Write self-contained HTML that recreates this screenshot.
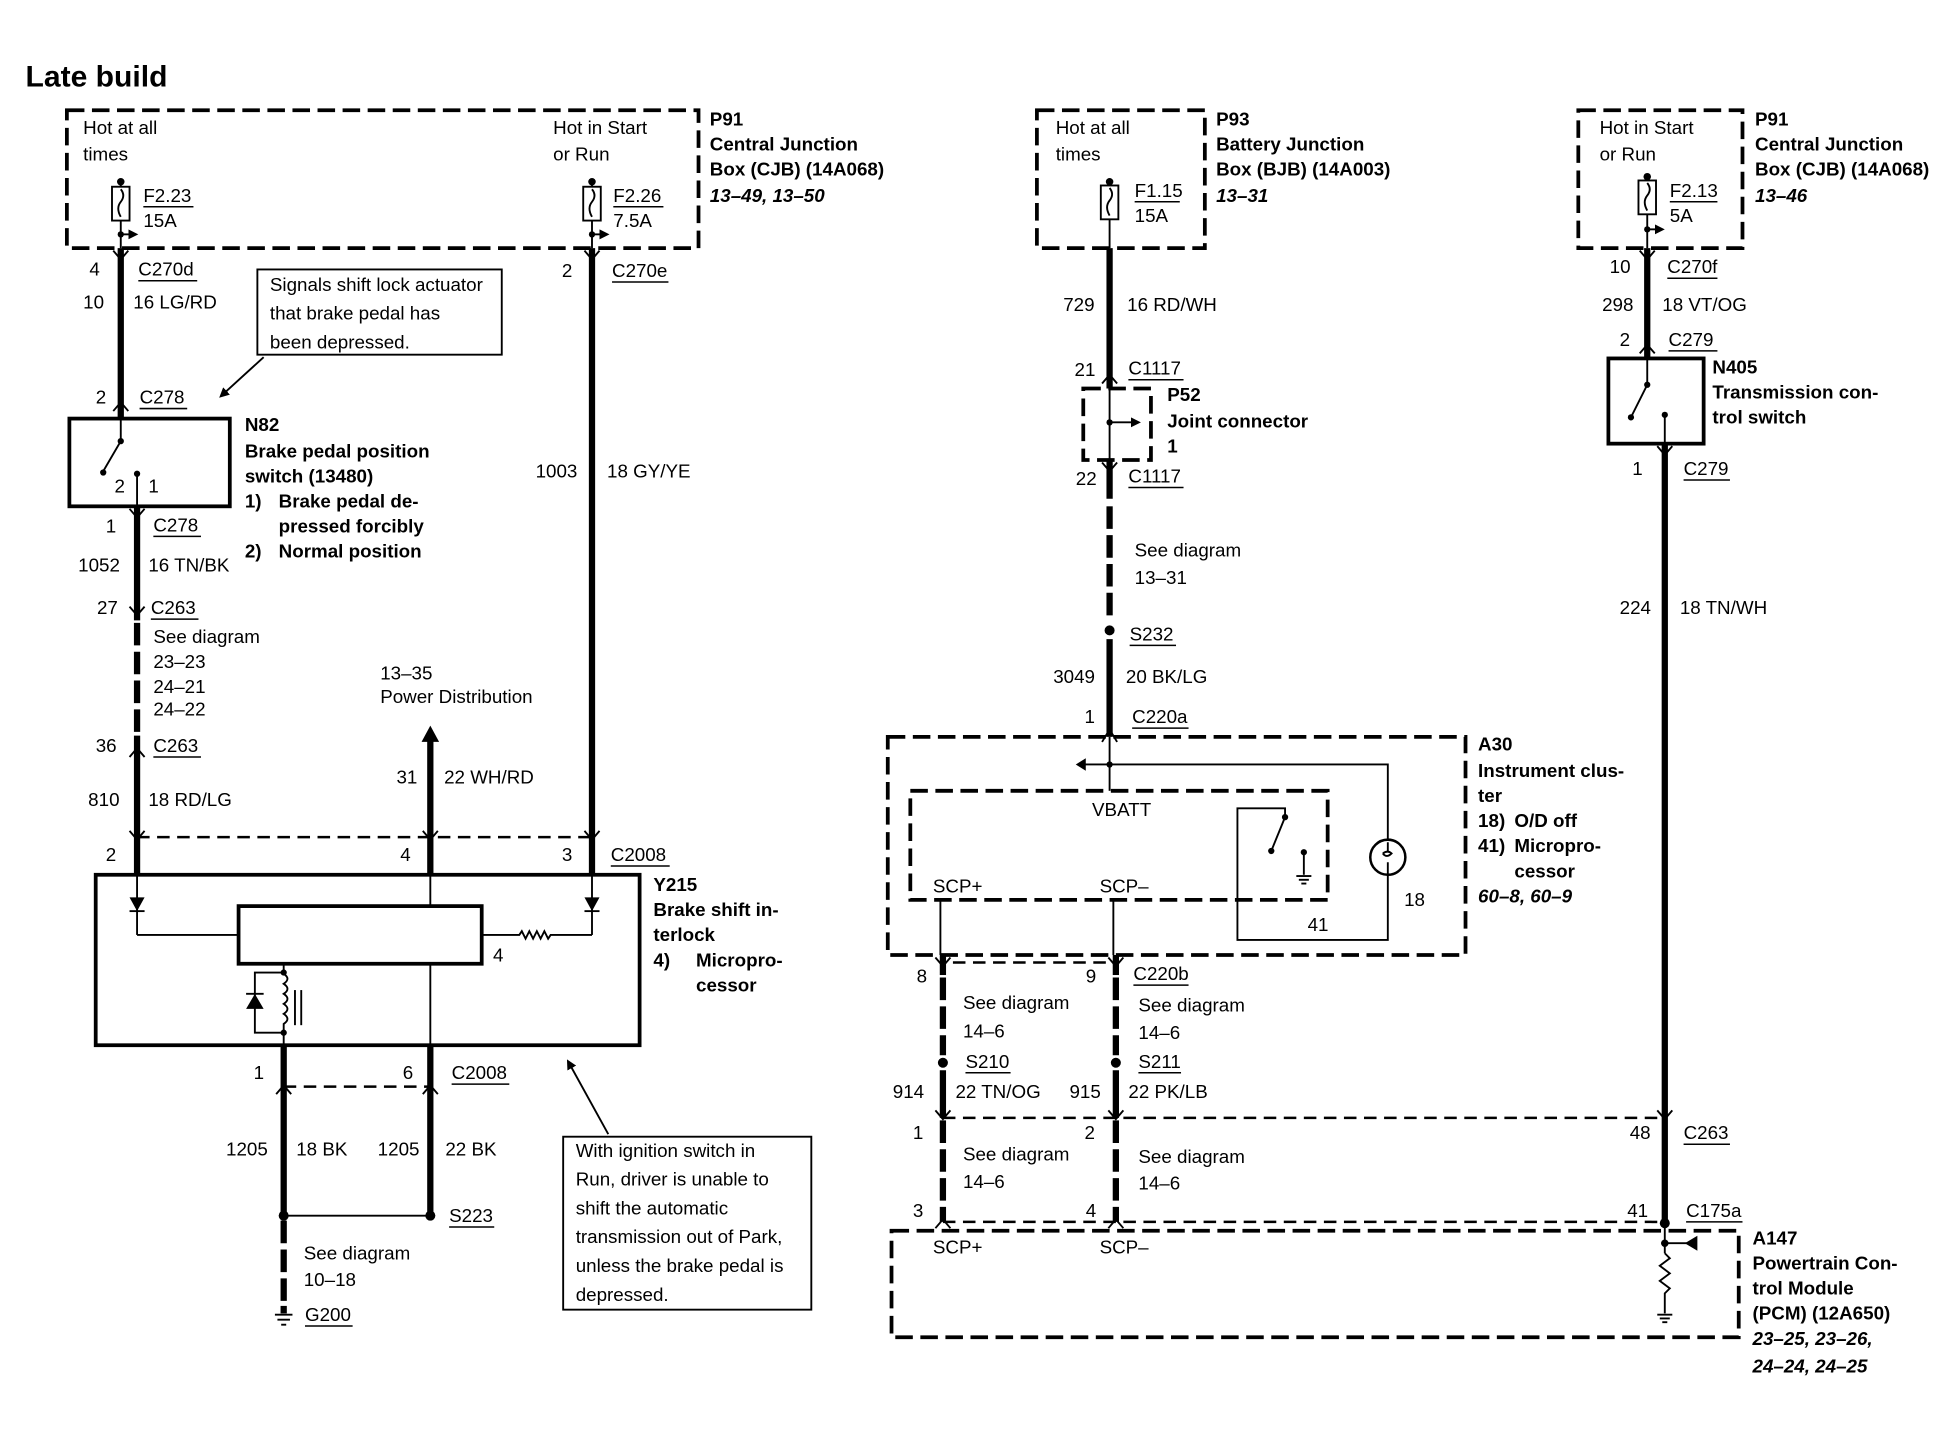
<!DOCTYPE html>
<html><head><meta charset="utf-8"><style>
html,body{margin:0;padding:0;background:#fff;}
svg{display:block}
text{font-family:"Liberation Sans Narrow","Liberation Sans",sans-serif;font-size:15px;fill:#000}
.b{font-weight:bold}
.i{font-style:italic;font-weight:bold}
.t{font-family:"Liberation Sans",sans-serif;font-size:24px;font-weight:bold}
.w{stroke:#000;stroke-width:5;fill:none}
.wd{stroke:#000;stroke-width:5;fill:none;stroke-dasharray:18,5}
.n{stroke:#000;stroke-width:1.5;fill:none}
.bx{stroke:#000;stroke-width:3;fill:none}
.db{stroke:#000;stroke-width:3;fill:none;stroke-dasharray:14,6}
.dn{stroke:#000;stroke-width:2;fill:none;stroke-dasharray:10,6}
.u{stroke:#000;stroke-width:1.2}
</style></head><body>
<svg width="1956" height="1440" viewBox="0 0 1560 1149" xmlns="http://www.w3.org/2000/svg">
<defs>
<marker id="ah" markerWidth="8" markerHeight="8" refX="6" refY="4" orient="auto" markerUnits="userSpaceOnUse"><path d="M0,0 L8,4 L0,8 z" fill="#000"/></marker>
</defs>
<text x="20" y="69" class="t">Late build</text>

<!-- LEFT P91 -->
<rect x="53" y="88" width="504" height="110" class="db"/>
<text x="66" y="107">Hot at all</text><text x="66" y="128">times</text>
<text x="441" y="107">Hot in Start</text><text x="441" y="128">or Run</text>
<text x="566" y="100" class="b">P91</text>
<text x="566" y="120" class="b">Central Junction</text>
<text x="566" y="140" class="b">Box (CJB) (14A068)</text>
<text x="566" y="161" class="i">13–49, 13–50</text>
<!-- fuse F2.23 -->
<circle cx="96" cy="145" r="3"/>
<line x1="96" y1="145" x2="96" y2="198" class="n"/>
<rect x="89" y="149" width="14" height="27" fill="#fff" stroke="#000" stroke-width="1.5"/>
<path d="M96,151 q4,5 0,10 q-4,5 0,12" class="n"/>
<line x1="96" y1="187" x2="108" y2="187" class="n" marker-end="url(#ah)"/>
<circle cx="96" cy="187" r="2.5"/>
<text x="114" y="161">F2.23</text><line x1="114" y1="165" x2="154" y2="165" class="u"/><text x="114" y="181">15A</text>
<!-- fuse F2.26 -->
<circle cx="472" cy="145" r="3"/>
<line x1="472" y1="145" x2="472" y2="198" class="n"/>
<rect x="465" y="149" width="14" height="27" fill="#fff" stroke="#000" stroke-width="1.5"/>
<path d="M472,151 q4,5 0,10 q-4,5 0,12" class="n"/>
<line x1="472" y1="187" x2="484" y2="187" class="n" marker-end="url(#ah)"/>
<circle cx="472" cy="187" r="2.5"/>
<text x="489" y="161">F2.26</text><line x1="489" y1="165" x2="529" y2="165" class="u"/><text x="489" y="181">7.5A</text>

<!-- left wire -->
<line x1="96" y1="198" x2="96" y2="333" class="w"/>
<path d="M90,200 L96,207 L102,200" class="n" stroke-width="2"/>
<path d="M90,328 L96,321 L102,328" class="n" stroke-width="2"/>
<text x="71" y="220">4</text><text x="110" y="220">C270d</text><line x1="110" y1="224" x2="157" y2="224" class="u"/>
<text x="66" y="246">10</text><text x="106" y="246">16 LG/RD</text>
<rect x="205" y="215" width="195" height="68" fill="#fff" stroke="#000" stroke-width="1.5"/>
<text x="215" y="232">Signals shift lock actuator</text>
<text x="215" y="255">that brake pedal has</text>
<text x="215" y="278">been depressed.</text>
<line x1="210" y1="285" x2="176" y2="316" class="n" stroke-width="2" marker-end="url(#ah)"/>
<text x="76" y="322">2</text><text x="111" y="322">C278</text><line x1="111" y1="326" x2="149" y2="326" class="u"/>
<!-- N82 -->
<rect x="55" y="334" width="128" height="70" class="bx"/>
<path d="M96,334 L96,352 L82,376" class="n" stroke-width="2"/>
<circle cx="96" cy="352" r="2.5"/><circle cx="82" cy="377" r="2.5"/>
<line x1="109" y1="378" x2="109" y2="404" class="n" stroke-width="2"/><circle cx="109" cy="378" r="2.5"/>
<text x="91" y="393">2</text><text x="118" y="393">1</text>
<text x="195" y="344" class="b">N82</text>
<text x="195" y="365" class="b">Brake pedal position</text>
<text x="195" y="385" class="b">switch (13480)</text>
<text x="195" y="405" class="b">1)</text><text x="222" y="405" class="b">Brake pedal de-</text>
<text x="222" y="425" class="b">pressed forcibly</text>
<text x="195" y="445" class="b">2)</text><text x="222" y="445" class="b">Normal position</text>
<!-- wire under N82 -->
<line x1="109" y1="404" x2="109" y2="495" class="w"/>
<path d="M103,406 L109,413 L115,406" class="n" stroke-width="2"/>
<path d="M103,484 L109,491 L115,484" class="n" stroke-width="2"/>
<text x="84" y="425">1</text><text x="122" y="424">C278</text><line x1="122" y1="428" x2="160" y2="428" class="u"/>
<text x="62" y="456">1052</text><text x="118" y="456">16 TN/BK</text>
<text x="77" y="490">27</text><text x="120" y="490">C263</text><line x1="120" y1="494" x2="158" y2="494" class="u"/>
<line x1="109" y1="497" x2="109" y2="585" class="wd"/>
<text x="122" y="513">See diagram</text><text x="122" y="533">23–23</text><text x="122" y="553">24–21</text><text x="122" y="571">24–22</text>
<line x1="109" y1="587" x2="109" y2="698" class="w"/>
<path d="M103,604 L109,597 L115,604" class="n" stroke-width="2"/>
<text x="76" y="600">36</text><text x="122" y="600">C263</text><line x1="122" y1="604" x2="160" y2="604" class="u"/>
<text x="70" y="643">810</text><text x="118" y="643">18 RD/LG</text>
<!-- C2008 top -->
<line x1="109" y1="668" x2="472" y2="668" class="dn"/>
<path d="M103,663 L109,670 L115,663" class="n" stroke-width="2"/>
<path d="M337,663 L343,670 L349,663" class="n" stroke-width="2"/>
<path d="M466,663 L472,670 L478,663" class="n" stroke-width="2"/>
<text x="84" y="687">2</text><text x="319" y="687">4</text><text x="448" y="687">3</text>
<text x="487" y="687">C2008</text><line x1="487" y1="691" x2="534" y2="691" class="u"/>
<!-- power dist -->
<line x1="343" y1="588" x2="343" y2="698" class="w"/>
<path d="M336,592 L343,579 L350,592 z" fill="#000"/>
<text x="303" y="542">13–35</text><text x="303" y="561">Power Distribution</text>
<text x="316" y="625">31</text><text x="354" y="625">22 WH/RD</text>
<!-- right wire -->
<line x1="472" y1="198" x2="472" y2="698" class="w"/>
<path d="M466,200 L472,207 L478,200" class="n" stroke-width="2"/>
<text x="448" y="221">2</text><text x="488" y="221">C270e</text><line x1="488" y1="225" x2="533" y2="225" class="u"/>
<text x="427" y="381">1003</text><text x="484" y="381">18 GY/YE</text>

<!-- Y215 -->
<rect x="76" y="698" width="434" height="136" class="bx"/>
<rect x="190" y="723" width="194" height="46" class="bx"/>
<line x1="109" y1="698" x2="109" y2="746" class="n" stroke-width="2"/>
<path d="M103,716 L115,716 L109,727 z" fill="#000"/><line x1="103" y1="727" x2="115" y2="727" class="n" stroke-width="2"/>
<path d="M109,746 L190,746" class="n" stroke-width="2"/>
<line x1="472" y1="698" x2="472" y2="746" class="n" stroke-width="2"/>
<path d="M466,716 L478,716 L472,727 z" fill="#000"/><line x1="466" y1="727" x2="478" y2="727" class="n" stroke-width="2"/>
<path d="M384,746 L414,746 l2,-3 l3,6 l3,-6 l3,6 l3,-6 l3,6 l3,-6 l3,6 l2,-3 L472,746" class="n" stroke-width="2"/>
<text x="393" y="767">4</text>
<line x1="343" y1="698" x2="343" y2="723" class="n" stroke-width="2"/>
<line x1="343" y1="769" x2="343" y2="834" class="n" stroke-width="2"/>
<line x1="226" y1="769" x2="226" y2="777" class="n" stroke-width="2"/>
<path d="M226,777 q6,4 0,8 q6,4 0,8 q6,4 0,8 q6,4 0,8 q6,4 0,8 L226,834" class="n" stroke-width="2"/>
<circle cx="226" cy="776" r="2.5"/><circle cx="226" cy="824" r="2.5"/>
<path d="M226,776 L203,776 L203,824 L226,824" class="n" stroke-width="2"/>
<path d="M196,805 L210,805 L203,793 z" fill="#000"/><line x1="196" y1="793" x2="210" y2="793" class="n" stroke-width="2"/>
<line x1="235" y1="790" x2="235" y2="818" class="n" stroke-width="2"/><line x1="240" y1="790" x2="240" y2="818" class="n" stroke-width="2"/>
<text x="521" y="711" class="b">Y215</text>
<text x="521" y="731" class="b">Brake shift in-</text>
<text x="521" y="751" class="b">terlock</text>
<text x="521" y="771" class="b">4)</text><text x="555" y="771" class="b">Micropro-</text>
<text x="555" y="791" class="b">cessor</text>
<!-- bottom wires -->
<line x1="226" y1="834" x2="226" y2="970" class="w"/>
<line x1="343" y1="834" x2="343" y2="970" class="w"/>
<path d="M220,873 L226,866 L232,873" class="n" stroke-width="2"/>
<path d="M337,873 L343,866 L349,873" class="n" stroke-width="2"/>
<line x1="226" y1="867" x2="343" y2="867" class="dn"/>
<text x="202" y="861">1</text><text x="321" y="861">6</text>
<text x="360" y="861">C2008</text><line x1="360" y1="865" x2="406" y2="865" class="u"/>
<text x="180" y="922">1205</text><text x="236" y="922">18 BK</text>
<text x="301" y="922">1205</text><text x="355" y="922">22 BK</text>
<line x1="226" y1="970" x2="343" y2="970" class="n" stroke-width="2"/>
<circle cx="226" cy="970" r="4"/><circle cx="343" cy="970" r="4"/>
<text x="358" y="975">S223</text><line x1="358" y1="979" x2="394" y2="979" class="u"/>
<line x1="226" y1="974" x2="226" y2="1042" class="wd"/>
<text x="242" y="1005">See diagram</text><text x="242" y="1026">10–18</text>
<line x1="226" y1="1042" x2="226" y2="1048" class="w"/>
<line x1="219" y1="1049" x2="233" y2="1049" class="n" stroke-width="2"/><line x1="221" y1="1053" x2="231" y2="1053" class="n" stroke-width="2"/><line x1="224" y1="1057" x2="228" y2="1057" class="n" stroke-width="2"/>
<text x="243" y="1054">G200</text><line x1="243" y1="1058" x2="281" y2="1058" class="u"/>
<rect x="449" y="907" width="198" height="138" fill="#fff" stroke="#000" stroke-width="1.5"/>
<text x="459" y="923">With ignition switch in</text>
<text x="459" y="946">Run, driver is unable to</text>
<text x="459" y="969">shift the automatic</text>
<text x="459" y="992">transmission out of Park,</text>
<text x="459" y="1015">unless the brake pedal is</text>
<text x="459" y="1038">depressed.</text>
<line x1="485" y1="905" x2="453" y2="847" class="n" stroke-width="2" marker-end="url(#ah)"/>

<!-- P93 -->
<rect x="827" y="88" width="134" height="110" class="db"/>
<text x="842" y="107">Hot at all</text><text x="842" y="128">times</text>
<circle cx="885" cy="145" r="3"/>
<line x1="885" y1="145" x2="885" y2="198" class="n"/>
<rect x="878" y="148" width="14" height="27" fill="#fff" stroke="#000" stroke-width="1.5"/>
<path d="M885,150 q4,5 0,10 q-4,5 0,12" class="n"/>
<text x="905" y="157">F1.15</text><line x1="905" y1="161" x2="941" y2="161" class="u"/><text x="905" y="177">15A</text>
<text x="970" y="100" class="b">P93</text>
<text x="970" y="120" class="b">Battery Junction</text>
<text x="970" y="140" class="b">Box (BJB) (14A003)</text>
<text x="970" y="161" class="i">13–31</text>
<line x1="885" y1="198" x2="885" y2="310" class="w"/>
<path d="M879,306 L885,299 L891,306" class="n" stroke-width="2"/>
<text x="848" y="248">729</text><text x="899" y="248">16 RD/WH</text>
<text x="857" y="300">21</text><text x="900" y="299">C1117</text><line x1="900" y1="303" x2="944" y2="303" class="u"/>
<rect x="864" y="310" width="54" height="57" class="db"/>
<line x1="885" y1="310" x2="885" y2="367" class="n" stroke-width="2"/>
<circle cx="885" cy="337" r="2.5"/>
<line x1="885" y1="337" x2="908" y2="337" class="n" stroke-width="2" marker-end="url(#ah)"/>
<text x="931" y="320" class="b">P52</text><text x="931" y="341" class="b">Joint connector</text><text x="931" y="361" class="b">1</text>
<line x1="885" y1="367" x2="885" y2="398" class="w"/>
<path d="M879,369 L885,376 L891,369" class="n" stroke-width="2"/>
<text x="858" y="387">22</text><text x="900" y="385">C1117</text><line x1="900" y1="389" x2="944" y2="389" class="u"/>
<line x1="885" y1="404" x2="885" y2="494" class="wd"/>
<text x="905" y="444">See diagram</text><text x="905" y="466">13–31</text>
<circle cx="885" cy="503" r="4"/>
<text x="901" y="511">S232</text><line x1="901" y1="515" x2="938" y2="515" class="u"/>
<line x1="885" y1="510" x2="885" y2="588" class="w"/>
<text x="840" y="545">3049</text><text x="898" y="545">20 BK/LG</text>
<text x="865" y="577">1</text><text x="903" y="577">C220a</text><line x1="903" y1="581" x2="948" y2="581" class="u"/>

<!-- A30 -->
<rect x="708" y="588" width="461" height="174" class="db"/>
<rect x="726" y="631" width="333" height="87" class="db"/>
<path d="M879,592 L885,582 L891,592" class="n" stroke-width="2"/>
<line x1="885" y1="588" x2="885" y2="631" class="n" stroke-width="2"/>
<circle cx="885" cy="610" r="2.5"/>
<path d="M865,610 L1107,610 L1107,670" class="n" stroke-width="2"/>
<path d="M858,610 L866,605 L866,615 z" fill="#000"/>
<circle cx="1107" cy="684" r="14" stroke="#000" stroke-width="2" fill="#fff"/>
<path d="M1107,672 L1107,679 M1103,681 q4,-3 7,0 q-4,4 -7,0 M1107,688 L1107,698" class="n" stroke-width="2"/>
<path d="M1107,698 L1107,750 L987,750 L987,645 L1025,645 L1025,652" class="n" stroke-width="2"/>
<path d="M1025,652 L1014,679" class="n" stroke-width="2"/>
<circle cx="1025" cy="652" r="2.5"/><circle cx="1014" cy="679" r="2.5"/>
<line x1="1040" y1="680" x2="1040" y2="698" class="n" stroke-width="2"/><circle cx="1040" cy="680" r="2.5"/>
<line x1="1034" y1="699" x2="1046" y2="699" class="n" stroke-width="1.5"/><line x1="1036" y1="702" x2="1044" y2="702" class="n" stroke-width="1.5"/><line x1="1038" y1="705" x2="1042" y2="705" class="n" stroke-width="1.5"/>
<text x="871" y="651">VBATT</text>
<text x="744" y="712">SCP+</text><text x="877" y="712">SCP–</text>
<text x="1043" y="743">41</text><text x="1120" y="723">18</text>
<text x="1179" y="599" class="b">A30</text>
<text x="1179" y="620" class="b">Instrument clus-</text>
<text x="1179" y="640" class="b">ter</text>
<text x="1179" y="660" class="b">18)</text><text x="1208" y="660" class="b">O/D off</text>
<text x="1179" y="680" class="b">41)</text><text x="1208" y="680" class="b">Micropro-</text>
<text x="1208" y="700" class="b">cessor</text>
<text x="1179" y="720" class="i">60–8, 60–9</text>
<!-- SCP wires -->
<line x1="750" y1="718" x2="750" y2="762" class="n" stroke-width="2"/>
<line x1="888" y1="718" x2="888" y2="762" class="n" stroke-width="2"/>
<line x1="752" y1="762" x2="752" y2="778" class="w"/><line x1="890" y1="762" x2="890" y2="778" class="w"/>
<line x1="752" y1="780" x2="752" y2="842" class="wd"/><line x1="890" y1="780" x2="890" y2="842" class="wd"/>
<path d="M746,764 L752,771 L758,764" class="n" stroke-width="2"/><path d="M884,764 L890,771 L896,764" class="n" stroke-width="2"/>
<line x1="760" y1="768" x2="888" y2="768" class="dn"/>
<text x="731" y="784">8</text><text x="866" y="784">9</text>
<text x="904" y="782">C220b</text><line x1="904" y1="786" x2="948" y2="786" class="u"/>
<text x="768" y="805">See diagram</text><text x="768" y="828">14–6</text>
<text x="908" y="807">See diagram</text><text x="908" y="829">14–6</text>
<circle cx="752" cy="848" r="4"/><circle cx="890" cy="848" r="4"/>
<text x="770" y="852">S210</text><line x1="770" y1="856" x2="806" y2="856" class="u"/>
<text x="908" y="852">S211</text><line x1="908" y1="856" x2="942" y2="856" class="u"/>
<line x1="752" y1="854" x2="752" y2="892" class="w"/><line x1="890" y1="854" x2="890" y2="892" class="w"/>
<text x="712" y="876">914</text><text x="762" y="876">22 TN/OG</text>
<text x="853" y="876">915</text><text x="900" y="876">22 PK/LB</text>
<line x1="752" y1="892" x2="1328" y2="892" class="dn"/>
<path d="M746,886 L752,893 L758,886" class="n" stroke-width="2"/><path d="M884,886 L890,893 L896,886" class="n" stroke-width="2"/><path d="M1322,886 L1328,893 L1334,886" class="n" stroke-width="2"/>
<line x1="752" y1="894" x2="752" y2="975" class="wd"/><line x1="890" y1="894" x2="890" y2="975" class="wd"/>
<text x="728" y="909">1</text><text x="865" y="909">2</text>
<text x="1300" y="909">48</text><text x="1343" y="909">C263</text><line x1="1343" y1="913" x2="1380" y2="913" class="u"/>
<text x="768" y="926">See diagram</text><text x="768" y="948">14–6</text>
<text x="908" y="928">See diagram</text><text x="908" y="949">14–6</text>
<text x="728" y="971">3</text><text x="866" y="971">4</text>
<text x="1298" y="971">41</text><text x="1345" y="971">C175a</text><line x1="1345" y1="975" x2="1390" y2="975" class="u"/>
<line x1="752" y1="975" x2="1328" y2="975" class="dn"/>
<path d="M746,980 L752,973 L758,980" class="n" stroke-width="2"/><path d="M884,980 L890,973 L896,980" class="n" stroke-width="2"/>
<!-- A147 -->
<rect x="711" y="982" width="676" height="85" class="db"/>
<text x="744" y="1000">SCP+</text><text x="877" y="1000">SCP–</text>
<circle cx="1328" cy="976" r="4"/>
<line x1="1328" y1="976" x2="1328" y2="1000" class="n" stroke-width="2"/>
<circle cx="1328" cy="992" r="3"/>
<line x1="1328" y1="992" x2="1352" y2="992" class="n" stroke-width="2"/><path d="M1344,992 L1354,986 L1354,998 z" fill="#000"/>
<path d="M1328,1000 l4,4 l-8,6 l8,6 l-8,6 l8,6 l-4,4 L1328,1048" class="n" stroke-width="2"/>
<line x1="1322" y1="1049" x2="1334" y2="1049" class="n" stroke-width="1.5"/><line x1="1324" y1="1052" x2="1332" y2="1052" class="n" stroke-width="1.5"/><line x1="1326" y1="1055" x2="1330" y2="1055" class="n" stroke-width="1.5"/>
<text x="1398" y="993" class="b">A147</text>
<text x="1398" y="1013" class="b">Powertrain Con-</text>
<text x="1398" y="1033" class="b">trol Module</text>
<text x="1398" y="1053" class="b">(PCM) (12A650)</text>
<text x="1398" y="1073" class="i">23–25, 23–26,</text>
<text x="1398" y="1095" class="i">24–24, 24–25</text>

<!-- RIGHT P91 -->
<rect x="1259" y="88" width="131" height="110" class="db"/>
<text x="1276" y="107">Hot in Start</text><text x="1276" y="128">or Run</text>
<circle cx="1314" cy="141" r="3"/>
<line x1="1314" y1="141" x2="1314" y2="198" class="n"/>
<rect x="1307" y="144" width="14" height="27" fill="#fff" stroke="#000" stroke-width="1.5"/>
<path d="M1314,146 q4,5 0,10 q-4,5 0,12" class="n"/>
<line x1="1314" y1="183" x2="1326" y2="183" class="n" marker-end="url(#ah)"/><circle cx="1314" cy="183" r="2.5"/>
<text x="1332" y="157">F2.13</text><line x1="1332" y1="161" x2="1370" y2="161" class="u"/><text x="1332" y="177">5A</text>
<text x="1400" y="100" class="b">P91</text>
<text x="1400" y="120" class="b">Central Junction</text>
<text x="1400" y="140" class="b">Box (CJB) (14A068)</text>
<text x="1400" y="161" class="i">13–46</text>
<line x1="1314" y1="198" x2="1314" y2="286" class="w"/>
<path d="M1308,200 L1314,207 L1320,200" class="n" stroke-width="2"/>
<path d="M1308,282 L1314,275 L1320,282" class="n" stroke-width="2"/>
<text x="1284" y="218">10</text><text x="1330" y="218">C270f</text><line x1="1330" y1="222" x2="1370" y2="222" class="u"/>
<text x="1278" y="248">298</text><text x="1326" y="248">18 VT/OG</text>
<text x="1292" y="276">2</text><text x="1331" y="276">C279</text><line x1="1331" y1="280" x2="1370" y2="280" class="u"/>
<rect x="1283" y="286" width="76" height="68" class="bx"/>
<path d="M1314,286 L1314,307 L1301,333" class="n" stroke-width="2"/>
<circle cx="1314" cy="307" r="2.5"/><circle cx="1301" cy="333" r="2.5"/>
<line x1="1328" y1="331" x2="1328" y2="354" class="n" stroke-width="2"/><circle cx="1328" cy="331" r="2.5"/>
<text x="1366" y="298" class="b">N405</text>
<text x="1366" y="318" class="b">Transmission con-</text>
<text x="1366" y="338" class="b">trol switch</text>
<line x1="1328" y1="354" x2="1328" y2="976" class="w"/>
<path d="M1322,356 L1328,363 L1334,356" class="n" stroke-width="2"/>
<text x="1302" y="379">1</text><text x="1343" y="379">C279</text><line x1="1343" y1="383" x2="1380" y2="383" class="u"/>
<text x="1292" y="490">224</text><text x="1340" y="490">18 TN/WH</text>
</svg>
</body></html>
